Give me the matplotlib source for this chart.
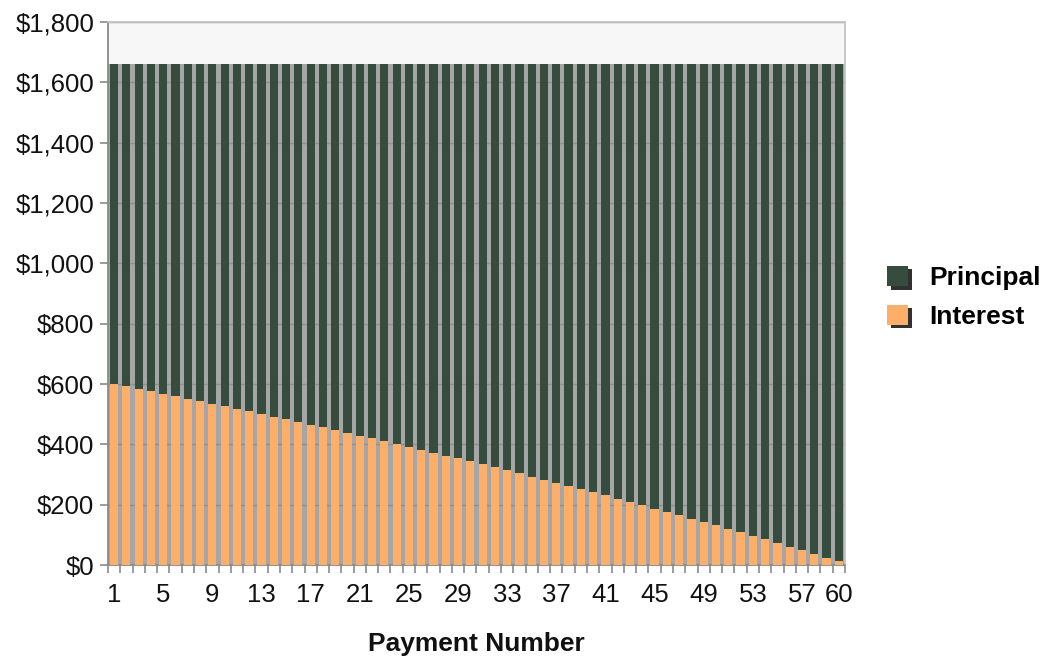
import matplotlib.pyplot as plt
import matplotlib.patheffects as pe
from matplotlib.patches import Patch
from matplotlib.ticker import FuncFormatter, MultipleLocator

plt.rcParams['font.family'] = ['Liberation Sans', 'DejaVu Sans']

# monthly split of each loan payment
payment_no = list(range(1, 61))
interest = [600.00, 592.05, 584.03, 575.96, 567.82, 559.62, 551.37, 543.05, 534.66, 526.22,
            517.71, 509.14, 500.50, 491.80, 483.03, 474.20, 465.30, 456.34, 447.31, 438.21,
            429.04, 419.80, 410.49, 401.11, 391.67, 382.15, 372.56, 362.90, 353.17, 343.36,
            333.48, 323.53, 313.50, 303.39, 293.21, 282.96, 272.62, 262.21, 251.72, 241.16,
            230.51, 219.78, 208.98, 198.09, 187.12, 176.06, 164.93, 153.71, 142.41, 131.02,
            119.55, 107.99, 96.35, 84.62, 72.80, 60.89, 48.89, 36.80, 24.62, 12.35]
principal = [1060.67, 1068.62, 1076.64, 1084.71, 1092.85, 1101.05, 1109.30, 1117.62, 1126.01, 1134.45,
             1142.96, 1151.53, 1160.17, 1168.87, 1177.64, 1186.47, 1195.37, 1204.33, 1213.36, 1222.46,
             1231.63, 1240.87, 1250.18, 1259.56, 1269.00, 1278.52, 1288.11, 1297.77, 1307.50, 1317.31,
             1327.19, 1337.14, 1347.17, 1357.28, 1367.46, 1377.71, 1388.05, 1398.46, 1408.95, 1419.51,
             1430.16, 1440.89, 1451.69, 1462.58, 1473.55, 1484.61, 1495.74, 1506.96, 1518.26, 1529.65,
             1541.12, 1552.68, 1564.32, 1576.05, 1587.87, 1599.78, 1611.78, 1623.87, 1636.05, 1648.32]
tick_labels = ['1', '5', '9', '13', '17', '21', '25', '29', '33', '37', '41', '45', '49', '53', '57', '60']

green = '#364c3f'
orange = '#fdae68'

fig = plt.figure(figsize=(10.44, 6.58), dpi=100)
ax = fig.add_axes([0.1034, 0.1413, 0.706, 0.8253])
ax.set_facecolor('#f7f7f7')

x = list(range(len(payment_no)))
totals = [p + i for p, i in zip(principal, interest)]

# grey shadow filling the gaps between bars
ax.bar(x, totals, width=1.0, color='#a6a6a6', zorder=1)
ax.bar(x, interest, width=0.67, color=orange, zorder=3)
ax.bar(x, principal, bottom=interest, width=0.67, color=green, zorder=3)

ax.set_xlim(-0.5, 59.5)
ax.set_ylim(0, 1800)
ax.yaxis.set_major_locator(MultipleLocator(200))
ax.yaxis.set_major_formatter(FuncFormatter(lambda v, pos: '${:,.0f}'.format(v)))
ax.grid(axis='y', color='#8f8f8f', linewidth=1, zorder=2)

label_pos = [int(t) - 1 for t in tick_labels]
ax.set_xticks(label_pos)
ax.set_xticklabels(tick_labels)
ax.set_xticks([v - 0.5 for v in x] + [59.5], minor=True)
ax.tick_params(axis='x', which='major', length=0, pad=13, labelsize=18.5, colors='#111111')
ax.tick_params(axis='x', which='minor', length=6, color='#8a8a8a', width=1.2)
ax.tick_params(axis='y', length=6, width=1.2, labelsize=18.5, pad=4)
ax.tick_params(axis='y', colors='#8a8a8a', labelcolor='#111111')

for side in ['top', 'right']:
    ax.spines[side].set_color('#c4c4c4')
ax.spines['left'].set_color('#8a8a8a')
ax.spines['bottom'].set_color('#8a8a8a')
for s in ax.spines.values():
    s.set_linewidth(1.3)

ax.set_xlabel('Payment Number', fontsize=19, fontweight='bold', labelpad=18, color='#111111')

shadow = [pe.SimplePatchShadow(offset=(2.5, -2.5), shadow_rgbFace='#1a1a1a', alpha=0.9), pe.Normal()]
handles = [Patch(facecolor=green, edgecolor='none', path_effects=shadow, label='Principal'),
           Patch(facecolor=orange, edgecolor='none', path_effects=shadow, label='Interest')]
leg = ax.legend(handles=handles, loc='center left', bbox_to_anchor=(0.827, 0.548),
                bbox_transform=fig.transFigure, frameon=False, handlelength=0.8, handleheight=0.8,
                handletextpad=0.8, labelspacing=0.55, prop={'size': 19, 'weight': 'bold'})

fig.savefig('out.png', dpi=100)
